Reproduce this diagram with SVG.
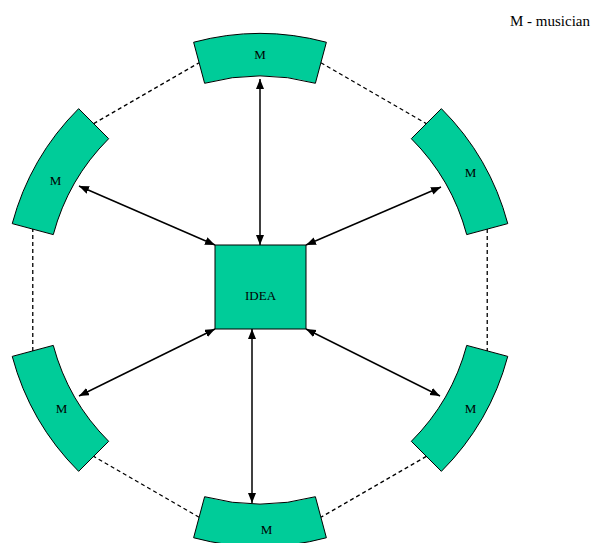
<svg xmlns="http://www.w3.org/2000/svg" width="594" height="543" viewBox="0 0 594 543">
<style>
.seg{fill:#00CC99;stroke:#000;stroke-width:1}
.lbl{font-family:"Liberation Serif","Times New Roman",serif;font-size:13px;fill:#000;text-anchor:middle}
.dash{stroke:#000;stroke-width:1.3;stroke-dasharray:4,3;fill:none}
.arr{stroke:#000;stroke-width:1.5;fill:none;marker-start:url(#ah);marker-end:url(#ah)}
</style>
<defs>
<marker id="ah" markerUnits="userSpaceOnUse" markerWidth="11" markerHeight="9" refX="10" refY="4" orient="auto-start-reverse">
<path d="M0,0 L10,4 L0,8 Z" fill="#000"/>
</marker>
</defs>
<rect width="594" height="543" fill="#fff"/>
<g id="ring-links">
<line class="dash" x1="320.89" y1="62.77" x2="426.35" y2="123.65"/>
<line class="dash" x1="487.23" y1="229.11" x2="487.23" y2="350.89"/>
<line class="dash" x1="426.35" y1="456.35" x2="320.89" y2="517.23"/>
<line class="dash" x1="199.11" y1="517.23" x2="93.65" y2="456.35"/>
<line class="dash" x1="32.77" y1="350.89" x2="32.77" y2="229.11"/>
<line class="dash" x1="93.65" y1="123.65" x2="199.11" y2="62.77"/>
</g>
<g id="m-top">
<path class="seg" d="M193.61,42.24 A256.5,256.5 0 0 1 326.39,42.24 L315.39,83.29 A214,214 0 0 0 204.61,83.29 Z"/>
<text class="lbl" x="260" y="59">M</text>
</g>
<g id="m-upper-right">
<path class="seg" d="M441.37,108.63 A256.5,256.5 0 0 1 507.76,223.61 L466.71,234.61 A214,214 0 0 0 411.32,138.68 Z"/>
<text class="lbl" x="470.5" y="177">M</text>
</g>
<g id="m-lower-right">
<path class="seg" d="M507.76,356.39 A256.5,256.5 0 0 1 441.37,471.37 L411.32,441.32 A214,214 0 0 0 466.71,345.39 Z"/>
<text class="lbl" x="470.5" y="413">M</text>
</g>
<g id="m-bottom">
<path class="seg" d="M326.39,537.76 A256.5,256.5 0 0 1 193.61,537.76 L204.61,496.71 A214,214 0 0 0 315.39,496.71 Z"/>
<text class="lbl" x="266.5" y="534">M</text>
</g>
<g id="m-lower-left">
<path class="seg" d="M78.63,471.37 A256.5,256.5 0 0 1 12.24,356.39 L53.29,345.39 A214,214 0 0 0 108.68,441.32 Z"/>
<text class="lbl" x="61.5" y="413">M</text>
</g>
<g id="m-upper-left">
<path class="seg" d="M12.24,223.61 A256.5,256.5 0 0 1 78.63,108.63 L108.68,138.68 A214,214 0 0 0 53.29,234.61 Z"/>
<text class="lbl" x="55.5" y="185">M</text>
</g>
<g id="idea">
<rect class="seg" x="215" y="245" width="91" height="84"/>
<text class="lbl" x="260.5" y="300">IDEA</text>
</g>
<g id="connectors">
<line class="arr" x1="260" y1="245" x2="260" y2="79"/>
<line class="arr" x1="252" y1="329" x2="252" y2="503"/>
<line class="arr" x1="215" y1="245" x2="79" y2="186"/>
<line class="arr" x1="306" y1="245" x2="441" y2="187"/>
<line class="arr" x1="215" y1="329" x2="79" y2="396"/>
<line class="arr" x1="306" y1="329" x2="440" y2="396"/>
</g>
<g id="legend">
<text x="510" y="26" font-family="'Liberation Serif','Times New Roman',serif" font-size="15" fill="#000">M - musician</text>
</g>
</svg>
